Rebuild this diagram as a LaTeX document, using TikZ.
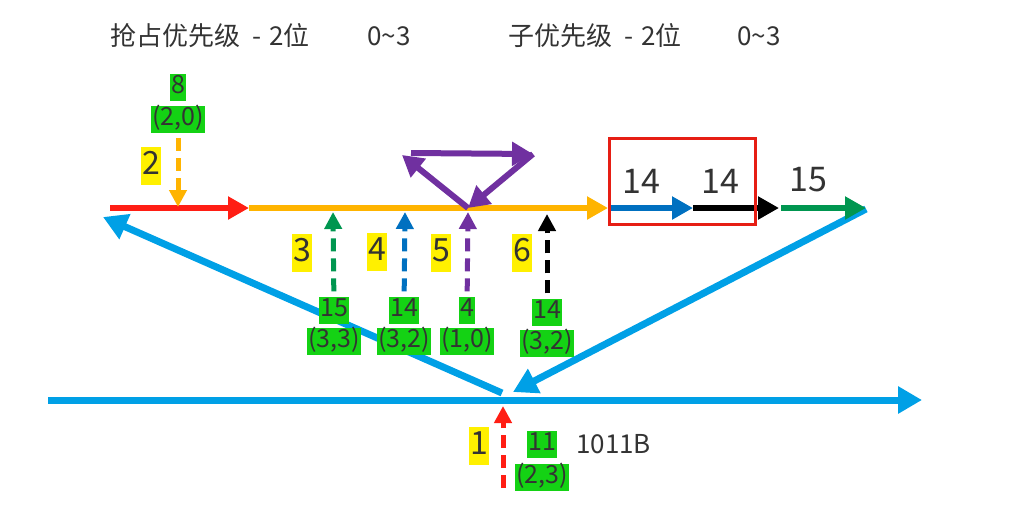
\documentclass[tikz,border=0pt]{standalone}
\usepackage{fontspec}
\setmainfont{Noto Sans CJK SC}
\usetikzlibrary{arrows.meta,positioning}

\definecolor{redline}{RGB}{255,30,20}
\definecolor{orangeline}{RGB}{255,180,0}
\definecolor{greenline}{RGB}{0,150,80}
\definecolor{blueline}{RGB}{0,112,192}
\definecolor{purpleline}{RGB}{112,48,160}
\definecolor{skyline}{RGB}{0,160,230}
\definecolor{boxgreen}{RGB}{20,210,20}
\definecolor{tagyellow}{RGB}{255,240,0}
\definecolor{textgray}{RGB}{51,51,51}
\definecolor{redbox}{RGB}{230,30,20}

\tikzset{
  bigarrow/.style={line width=6.5pt, -{Triangle[length=21pt,width=22pt]}},
  dasharrow/.style={line width=5pt, dash pattern=on 13pt off 7pt, -{Triangle[length=17pt,width=17pt]}},
  skyarrow/.style={skyline, line width=7pt, -{Triangle[length=24pt,width=26pt]}},
  purplearrow/.style={purpleline, line width=6pt, -{Triangle[length=21pt,width=23pt]}},
  gbox/.style={fill=boxgreen, text=textgray, inner xsep=1pt, inner ysep=1pt, text height=19pt, text depth=6pt, font=\fontsize{25}{28}\selectfont},
  ytag/.style={fill=tagyellow, text=textgray, inner xsep=1pt, inner ysep=2pt, text height=25pt, text depth=9pt, font=\fontsize{32}{36}\selectfont},
  headtext/.style={text=textgray, font=\fontsize{26}{30}\selectfont, anchor=base west, inner sep=0pt},
  bignum/.style={text=textgray, font=\fontsize{34}{40}\selectfont, anchor=base, inner sep=0pt},
}

\begin{document}
\begin{tikzpicture}[x=1pt, y=-1pt]
  \useasboundingbox (0,0) rectangle (1012,523);

  % header
  \node[headtext] (h1) at (110,45) {抢占优先级\hspace{12pt}-\hspace{8pt}2位};
  \node[headtext] (h2) at (367,45) {0\textasciitilde 3};
  \node[headtext] (h3) at (508,45) {子优先级\hspace{12pt}-\hspace{8pt}2位};
  \node[headtext] (h4) at (737,45) {0\textasciitilde 3};

  % sky blue lines
  \coordinate (s0) at (48,400);
  \coordinate (s1) at (922,400);
  \coordinate (lj) at (502,393);
  \coordinate (lt) at (103,217);
  \coordinate (rj) at (866,209);
  \coordinate (rt) at (513,392);
  \draw[skyarrow] (s0) -- (s1);
  \draw[skyarrow] (lj) -- (lt);
  \draw[skyarrow] (rj) -- (rt);

  % main line
  \coordinate (rs) at (110,208);
  \coordinate (re) at (249,208);
  \coordinate (oe) at (608,208);
  \coordinate (bs) at (611,208);
  \coordinate (be) at (693,208);
  \coordinate (ke) at (779,208);
  \coordinate (gs) at (781,208);
  \coordinate (ge) at (866,208);
  \draw[bigarrow, redline] (rs) -- (re);
  \draw[bigarrow, orangeline] (re) -- (oe);
  \draw[bigarrow, blueline] (bs) -- (be);
  \draw[bigarrow, black] (be) -- (ke);
  \draw[bigarrow, greenline] (gs) -- (ge);

  \node[draw=redbox, line width=3pt, minimum width=146pt, minimum height=86pt, inner sep=0pt] (focus) at (682,181) {};
  \node[bignum] (n14a) at (641,193) {14};
  \node[bignum] (n14b) at (720,193) {14};
  \node[bignum] (n15) at (808,191) {15};

  % purple loop
  \coordinate (papex) at (468,208);
  \coordinate (ptl) at (402,155);
  \coordinate (ptlh) at (411,153);
  \coordinate (ptr) at (533,154);
  \draw[purplearrow] (papex) -- (ptl);
  \draw[purplearrow] (ptlh) -- (ptr);
  \draw[purplearrow] (ptr) -- (papex);

  % interrupt 2
  \node[gbox] (g8) at (178,87) {8};
  \node[gbox, below=5pt of g8] (g20) {(2,0)};
  \node[ytag] (y2) at (151,166) {2};
  \coordinate (a2) at (178,207);
  \draw[dasharrow, orangeline, shorten <=5pt] (g20) -- (a2);

  % interrupts 3 to 6
  \node[gbox] (g15) at (334,310) {15};
  \node[gbox, below=4pt of g15] (g33) {(3,3)};
  \node[gbox] (g14a) at (404,310) {14};
  \node[gbox, below=4pt of g14a] (g32a) {(3,2)};
  \node[gbox] (g4) at (467,310) {4};
  \node[gbox, below=4pt of g4] (g10) {(1,0)};
  \node[gbox] (g14b) at (547,312) {14};
  \node[gbox, below=4pt of g14b] (g32b) {(3,2)};

  \node[ytag] (y3) at (302,253) {3};
  \node[ytag] (y4) at (377,252) {4};
  \node[ytag] (y5) at (441,253) {5};
  \node[ytag] (y6) at (522,253) {6};

  \coordinate (a3) at (333,212);
  \coordinate (a4) at (405,212);
  \coordinate (a5) at (468,212);
  \coordinate (a6) at (547,214);
  \draw[dasharrow, greenline, shorten <=5pt] (g15) -- (a3);
  \draw[dasharrow, blueline, shorten <=5pt] (g14a) -- (a4);
  \draw[dasharrow, purpleline, shorten <=5pt] (g4) -- (a5);
  \draw[dasharrow, black, shorten <=5pt] (g14b) -- (a6);

  % interrupt 1
  \coordinate (rb) at (503,488);
  \coordinate (rtop) at (503,406);
  \draw[dasharrow, redline] (rb) -- (rtop);
  \node[ytag] (y1) at (479,446) {1};
  \node[gbox] (g11) at (542,444) {11};
  \node[gbox, below=6pt of g11] (g23) {(2,3)};
  \node[text=textgray, font=\fontsize{26}{30}\selectfont, anchor=base west, inner sep=0pt] (bin) at (576,453) {1011B};
\end{tikzpicture}
\end{document}
